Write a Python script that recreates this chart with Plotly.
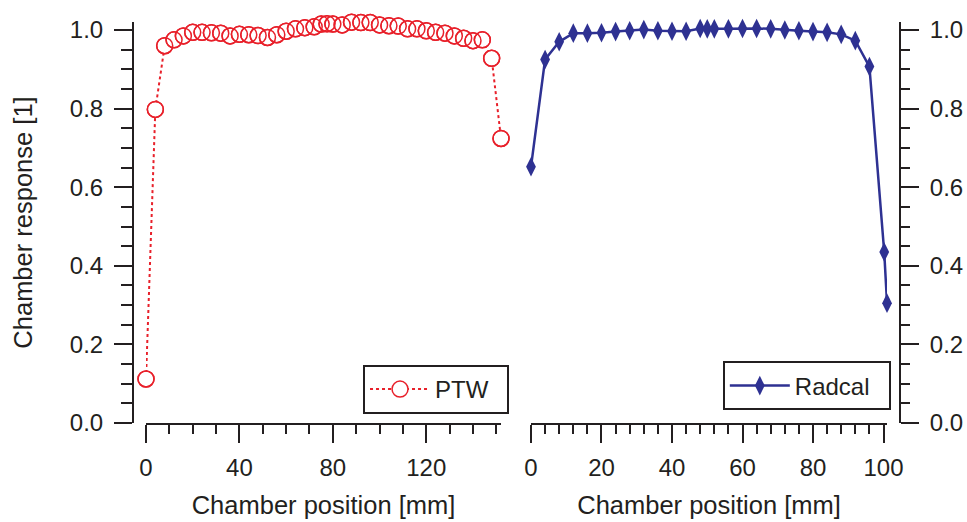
import plotly.graph_objects as go

# ---- data ----
ptw_pos = [0, 4, 8, 12, 16, 20, 24, 28, 32, 36, 40, 44, 48, 52, 56, 60, 64, 68, 72, 75,
           77.5, 80, 84, 88, 92, 96, 100, 104, 108, 112, 116, 120, 124, 128, 132, 136,
           140, 144, 148, 152]
ptw_resp = [0.112, 0.798, 0.960, 0.975, 0.985, 0.994, 0.994, 0.993, 0.992, 0.985, 0.989,
            0.988, 0.986, 0.981, 0.988, 0.997, 1.003, 1.006, 1.008, 1.015, 1.016, 1.015,
            1.013, 1.020, 1.019, 1.019, 1.013, 1.011, 1.010, 1.003, 1.003, 0.998, 0.994,
            0.992, 0.985, 0.979, 0.973, 0.975, 0.928, 0.724]

radcal_pos = [0, 4, 8, 12, 16, 20, 24, 28, 32, 36, 40, 44, 48, 50, 52, 56, 60, 64, 68, 72,
              76, 80, 84, 88, 92, 96, 100.2, 101]
radcal_resp = [0.652, 0.925, 0.970, 0.992, 0.992, 0.993, 0.996, 0.998, 1.001, 0.998, 0.997,
               0.997, 1.004, 1.003, 1.003, 1.003, 1.004, 1.004, 1.003, 1.000, 0.998, 0.996,
               0.994, 0.989, 0.973, 0.907, 0.435, 0.305]

x_title = "Chamber position [mm]"
y_title = "Chamber response [1]"

INK = "#231f20"
RED = "#e8202a"
BLUE = "#2e3192"
FONT = "Liberation Sans"
TITLE_SIZE = 25.5

fig = go.Figure()

# PTW: dotted line + white-filled circles (hide line inside markers), then open rings on top
fig.add_trace(go.Scatter(
    x=ptw_pos, y=ptw_resp, mode="lines+markers", name="PTW\u00a0\u00a0",
    line=dict(color=RED, width=2, dash="dot"),
    marker=dict(symbol="circle", size=16, color="white", line=dict(color=RED, width=1.5)),
    cliponaxis=False, xaxis="x", yaxis="y", legend="legend"))
fig.add_trace(go.Scatter(
    x=ptw_pos, y=ptw_resp, mode="markers", showlegend=False,
    marker=dict(symbol="circle-open", size=16, color=RED, line=dict(color=RED, width=1.5)),
    cliponaxis=False, xaxis="x", yaxis="y", hoverinfo="skip"))

# Radcal
fig.add_trace(go.Scatter(
    x=radcal_pos, y=radcal_resp, mode="lines+markers", name="Radcal\u00a0\u00a0",
    line=dict(color=BLUE, width=2.5),
    marker=dict(symbol="diamond-tall", size=14, color=BLUE),
    cliponaxis=False, xaxis="x2", yaxis="y2", legend="legend2"))

axis_common = dict(
    showline=True, linewidth=2, linecolor=INK, mirror=False,
    ticks="outside", ticklen=18, tickwidth=2, tickcolor=INK,
    showgrid=False, zeroline=False, automargin=False,
    tickfont=dict(family=FONT, size=24, color=INK),
)

fig.update_layout(
    width=967, height=522,
    margin=dict(l=133, r=67, t=22, b=99, autoexpand=False),
    paper_bgcolor="white", plot_bgcolor="white",
    font=dict(family=FONT, size=24, color=INK),
    xaxis=dict(**axis_common, domain=[0.01695, 0.4798], range=[0, 152], anchor="y",
               tick0=0, dtick=40, ticklabelstandoff=4,
               minor=dict(dtick=10, tick0=0, ticks="outside", ticklen=9, tickwidth=2, tickcolor=INK),
               title=dict(text=x_title, standoff=16, font=dict(family=FONT, size=TITLE_SIZE, color=INK))),
    xaxis2=dict(**axis_common, domain=[0.5189, 0.9831], range=[0, 101], anchor="y2",
                tick0=0, dtick=20, ticklabelstandoff=4,
                minor=dict(dtick=4, tick0=0, ticks="outside", ticklen=9, tickwidth=2, tickcolor=INK),
                title=dict(text=x_title, standoff=16, font=dict(family=FONT, size=TITLE_SIZE, color=INK))),
    yaxis=dict(**axis_common, domain=[0, 1], range=[0, 1.0204], anchor="free", position=0,
               side="left", tick0=0, dtick=0.2, tickformat=".1f", ticklabelstandoff=6,
               minor=dict(dtick=0.05, tick0=0, ticks="outside", ticklen=11, tickwidth=2, tickcolor=INK),
               title=dict(text=y_title, standoff=29, font=dict(family=FONT, size=TITLE_SIZE, color=INK))),
    yaxis2=dict(**axis_common, domain=[0, 1], range=[0, 1.0204], anchor="free", position=1,
                side="right", tick0=0, dtick=0.2, tickformat=".1f", ticklabelstandoff=6,
                minor=dict(dtick=0.05, tick0=0, ticks="outside", ticklen=9, tickwidth=2, tickcolor=INK)),
    legend=dict(x=0.2999, y=0.0224, xanchor="left", yanchor="bottom",
                bgcolor="white", bordercolor=INK, borderwidth=2,
                font=dict(family=FONT, size=24, color=INK), itemwidth=60),
    legend2=dict(x=0.769, y=0.0312, xanchor="left", yanchor="bottom",
                 bgcolor="white", bordercolor=INK, borderwidth=2,
                 font=dict(family=FONT, size=24, color=INK), itemwidth=60),
)

fig.write_html("out.html", config={"displayModeBar": False},
               post_script="document.body.style.margin='0';document.body.style.padding='0';")
